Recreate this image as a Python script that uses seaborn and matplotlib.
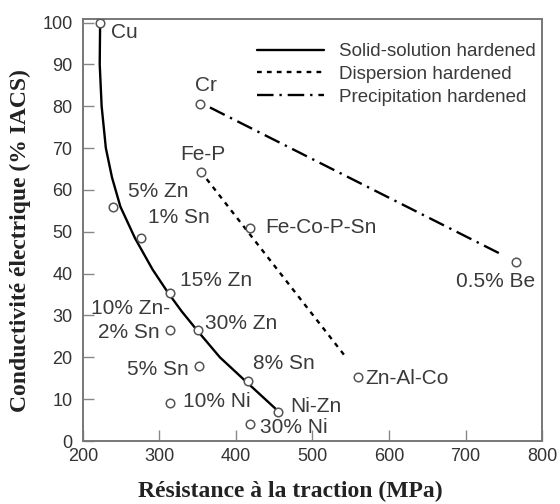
import pandas as pd
import seaborn as sns
import matplotlib.pyplot as plt

# Alloy points (tensile strength MPa, conductivity % IACS)
alloys = ["Cu", "5% Zn", "1% Sn", "15% Zn", "10% Zn-2% Sn", "30% Zn", "5% Sn", "8% Sn",
          "10% Ni", "Ni-Zn", "30% Ni", "Cr", "Fe-P", "Fe-Co-P-Sn", "Zn-Al-Co", "0.5% Be"]
strength = [223, 240, 276.5, 314, 314, 350, 352, 416, 314, 455, 419, 353, 354, 419, 560, 766]
conductivity = [99.8, 56, 48.5, 35.4, 26.5, 26.5, 18, 14.4, 9, 7, 4, 80.5, 64.2, 51, 15.2, 42.8]

# Solid-solution hardened curve
solid_x = [222.5, 222, 224.5, 230, 238, 249, 268, 291, 311, 329, 349, 379, 412, 453]
solid_y = [99.5, 90, 80, 70, 63, 56, 48.5, 41, 35.5, 31, 26.5, 20, 14.4, 7.5]

# Dispersion and precipitation hardened lines
disp_x = [361.7, 544.6]
disp_y = [62.6, 19.8]
prec_x = [366, 749]
prec_y = [79.7, 44.4]

# label positions (data coords) and alignment
label_text = ["Cu", "Cr", "Fe-P", "5% Zn", "1% Sn", "Fe-Co-P-Sn", "15% Zn", "10% Zn-", "2% Sn",
              "30% Zn", "5% Sn", "8% Sn", "10% Ni", "Ni-Zn", "30% Ni", "Zn-Al-Co", "0.5% Be"]
label_x = [236.6, 346.4, 327.7, 259.3, 285.4, 437.9, 326.8, 313.7, 300.7,
           359.5, 337.7, 421.8, 330.3, 470.6, 431.4, 568.6, 738.6]
label_y = [97.6, 85, 68.4, 59.5, 53.5, 51.1, 38.3, 31.7, 25.9,
           28.1, 17.1, 18.6, 9.4, 8.3, 3.3, 15, 38]
label_ha = ["left", "left", "left", "left", "left", "left", "left", "right", "right",
            "left", "right", "left", "left", "left", "left", "left", "center"]

sns.set_style("ticks")
plt.rcParams["font.family"] = ["Liberation Sans", "DejaVu Sans"]

fig = plt.figure(figsize=(5.6, 5.04), dpi=100)
ax = fig.add_axes([0.148, 0.125, 0.82, 0.837])

sns.lineplot(x=solid_x, y=solid_y, color="black", lw=1.7, sort=False, ax=ax,
             label="Solid-solution hardened")
sns.lineplot(x=disp_x, y=disp_y, color="black", lw=1.7, ax=ax,
             label="Dispersion hardened", linestyle=(0, (2, 2.2)))
sns.lineplot(x=prec_x, y=prec_y, color="black", lw=1.7, ax=ax,
             label="Precipitation hardened", linestyle=(0, (7, 2.5, 1, 2.5)))

pts = pd.DataFrame({"alloy": alloys, "strength": strength, "conductivity": conductivity})
sns.scatterplot(data=pts, x="strength", y="conductivity", ax=ax, s=38,
                facecolor="white", edgecolor="#555555", linewidth=1.1, zorder=5, legend=False)

for t, x, y, ha in zip(label_text, label_x, label_y, label_ha):
    ax.text(x, y, t, ha=ha, va="center", fontsize=15, color="#3a3a3a")

ax.set_xlim(200, 800)
ax.set_ylim(0, 100.8)
ax.set_xticks([200, 300, 400, 500, 600, 700, 800])
ax.set_yticks([0, 10, 20, 30, 40, 50, 60, 70, 80, 90, 100])
ax.tick_params(direction="in", length=8, width=1, color="#888888", labelsize=13,
               labelcolor="#333333")
ax.tick_params(axis="x", pad=5)
ax.tick_params(axis="y", pad=7.5)
for s in ax.spines.values():
    s.set_color("#777777")
    s.set_linewidth(1.4)

ax.set_xlabel("Résistance à la traction (MPa)", fontsize=17, fontweight="bold",
              family="Liberation Serif", color="#222222")
ax.xaxis.set_label_coords(0.451, -0.095)
ax.set_ylabel("Conductivité électrique (% IACS)", fontsize=17, fontweight="bold",
              family="Liberation Serif", color="#222222")
ax.yaxis.set_label_coords(-0.113, 0.476)

leg = ax.legend(loc="upper right", frameon=False, fontsize=13.5, handlelength=3.6,
                handletextpad=0.8, labelspacing=0.3, borderaxespad=0.2,
                bbox_to_anchor=(1.011, 0.97))
for txt in leg.get_texts():
    txt.set_color("#3a3a3a")

plt.savefig("out.png", dpi=100)
